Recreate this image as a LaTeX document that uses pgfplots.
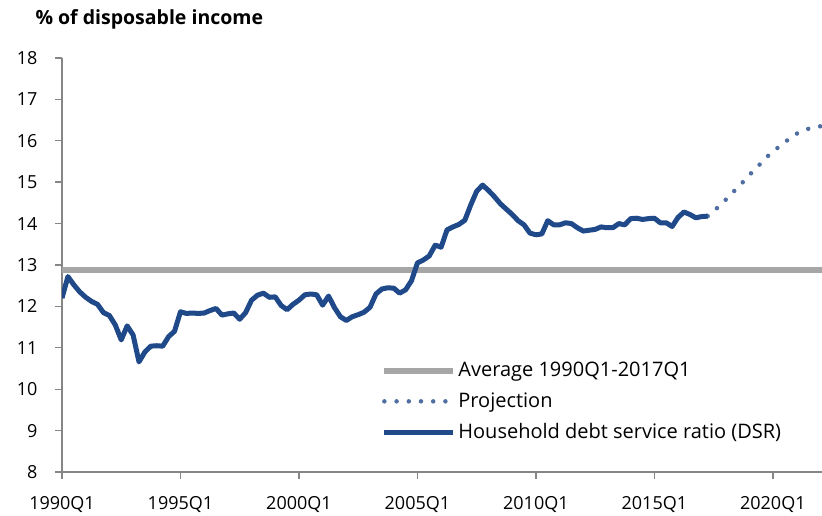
\documentclass[border=0pt]{standalone}
\usepackage{fontspec}
\setmainfont{Open Sans}
\usepackage{pgfplots}
\pgfplotsset{compat=1.18}
\definecolor{dsr}{RGB}{31,73,137}
\definecolor{proj}{RGB}{79,111,163}
\definecolor{avg}{RGB}{166,166,166}
\definecolor{axgray}{RGB}{134,134,134}
\begin{document}
\fontsize{16bp}{19bp}\selectfont
\begin{tikzpicture}
\path[use as bounding box] (-62bp,-44bp) rectangle (760bp,472bp);
\begin{axis}[
  at={(0,0)}, anchor=south west,
  scale only axis, width=760bp, height=414bp,
  xmin=0, xmax=128.3, ymin=8, ymax=18,
  axis x line*=bottom, axis y line*=left,
  axis line style={axgray, line width=1.4bp, -},
  xtick={0,20,40,60,80,100,120},
  xticklabels={1990Q1,1995Q1,2000Q1,2005Q1,2010Q1,2015Q1,2020Q1},
  ytick={8,9,...,18},
  tick style={axgray, line width=1.4bp},
  tick align=outside, major tick length=7bp,
  /pgf/number format/assume math mode=true,
  ticklabel style={font=\fontsize{18bp}{21bp}\selectfont},
  xticklabel style={yshift=-12bp},
  yticklabel style={xshift=-12bp},
  clip=true,
  legend cell align=left,
  legend style={draw=none, fill=none, at={(rel axis cs:0.42,0.27)}, anchor=north west,
    font=\fontsize{20bp}{23bp}\selectfont, row sep=9.5bp, inner sep=0pt},
  legend image code/.code={\draw[#1] (0bp,0bp) -- (69bp,0bp);},
]
\addplot[avg, line width=6bp] coordinates {(0,12.87) (128.3,12.87)};
\addlegendentry{Average 1990Q1-2017Q1}
\addplot[proj, line width=4.5bp, line cap=round, dash pattern=on 0bp off 12.2bp] coordinates {
(109,14.18)(110,14.30)(111,14.43)(112,14.57)(113,14.72)(114,14.86)(115,15.01)(116,15.17)
(117,15.31)(118,15.46)(119,15.61)(120,15.74)(121,15.85)(122,15.96)(123,16.08)(124,16.17)
(125,16.24)(126,16.29)(127,16.33)(128,16.35)};
\addlegendentry{Projection}
\addplot[dsr, line width=5bp, line join=round] coordinates {
(0,12.20)(1,12.72)(2,12.52)(3,12.35)(4,12.22)(5,12.12)(6,12.05)(7,11.85)(8,11.78)(9,11.55)
(10,11.19)(11,11.53)(12,11.31)(13,10.66)(14,10.90)(15,11.04)(16,11.05)(17,11.04)(18,11.27)(19,11.40)
(20,11.87)(21,11.83)(22,11.84)(23,11.83)(24,11.84)(25,11.90)(26,11.95)(27,11.79)(28,11.82)(29,11.84)
(30,11.69)(31,11.85)(32,12.15)(33,12.27)(34,12.32)(35,12.22)(36,12.23)(37,12.02)(38,11.92)(39,12.05)
(40,12.15)(41,12.28)(42,12.30)(43,12.28)(44,12.03)(45,12.25)(46,11.97)(47,11.75)(48,11.66)(49,11.75)
(50,11.80)(51,11.86)(52,11.98)(53,12.30)(54,12.42)(55,12.45)(56,12.44)(57,12.32)(58,12.40)(59,12.62)
(60,13.05)(61,13.12)(62,13.22)(63,13.48)(64,13.43)(65,13.85)(66,13.92)(67,13.98)(68,14.08)(69,14.45)
(70,14.78)(71,14.93)(72,14.80)(73,14.65)(74,14.48)(75,14.35)(76,14.22)(77,14.07)(78,13.97)(79,13.77)
(80,13.73)(81,13.75)(82,14.07)(83,13.97)(84,13.97)(85,14.02)(86,14.00)(87,13.90)(88,13.82)(89,13.84)
(90,13.86)(91,13.92)(92,13.90)(93,13.90)(94,14.00)(95,13.97)(96,14.12)(97,14.13)(98,14.10)(99,14.12)
(100,14.13)(101,14.02)(102,14.02)(103,13.93)(104,14.15)(105,14.28)(106,14.22)(107,14.14)(108,14.17)(109,14.18)};
\addlegendentry{Household debt service ratio (DSR)}
\end{axis}
\node[anchor=base west, font=\bfseries\fontsize{19.5bp}{22bp}\selectfont] at (-32bp,447bp) {\% of disposable income};
\end{tikzpicture}
\end{document}
